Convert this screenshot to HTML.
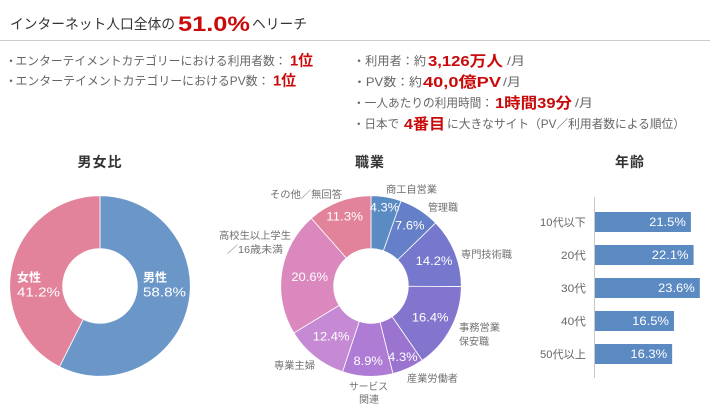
<!DOCTYPE html>
<html lang="ja">
<head>
<meta charset="utf-8">
<title>インターネット人口全体の51.0%へリーチ</title>
<style>
html,body{margin:0;padding:0;background:#fff;}
svg{display:block;}
text{font-family:"Liberation Sans","Noto Sans CJK JP",sans-serif;}
.t{fill:#666;font-size:12px;}
.r{fill:#c80a0a;font-weight:bold;font-size:15px;}
.h{fill:#333;font-size:14px;font-weight:bold;}
.o{fill:#707070;font-size:10px;}
.w{fill:#fff;}
</style>
</head>
<body>
<svg id="chart" xmlns="http://www.w3.org/2000/svg" width="710" height="404" viewBox="0 0 710 404">
  <text x="10" y="29" fill="#333" font-size="14" textLength="165" lengthAdjust="spacingAndGlyphs">インターネット人口全体の</text>
  <text x="178" y="31" fill="#c80a0a" font-size="21" font-weight="bold" textLength="72" lengthAdjust="spacingAndGlyphs">51.0%</text>
  <text x="252" y="29" fill="#333" font-size="14" textLength="55" lengthAdjust="spacingAndGlyphs">ヘリーチ</text>
  <rect x="0" y="40" width="710" height="1" fill="#cccccc"/>

  <g>
    <text class="t" x="5" y="65">・</text>
    <text class="t" x="15.5" y="65" textLength="271" lengthAdjust="spacingAndGlyphs">エンターテイメントカテゴリーにおける利用者数：</text>
    <text class="r" x="290" y="65.5" textLength="23" lengthAdjust="spacingAndGlyphs">1位</text>
    <text class="t" x="5" y="85">・</text>
    <text class="t" x="15.5" y="85" textLength="254" lengthAdjust="spacingAndGlyphs">エンターテイメントカテゴリーにおけるPV数：</text>
    <text class="r" x="273" y="85.5" textLength="23" lengthAdjust="spacingAndGlyphs">1位</text>
  </g>

  <g>
    <text class="t" x="353" y="65" textLength="73" lengthAdjust="spacingAndGlyphs">・利用者：約</text>
    <text class="r" x="428" y="66" textLength="75" lengthAdjust="spacingAndGlyphs">3,126万人</text>
    <text class="t" x="507" y="65" textLength="18" lengthAdjust="spacingAndGlyphs">/月</text>
    <text class="t" x="353" y="86" textLength="69" lengthAdjust="spacingAndGlyphs">・PV数：約</text>
    <text class="r" x="423" y="87" textLength="78" lengthAdjust="spacingAndGlyphs">40,0億PV</text>
    <text class="t" x="503" y="86" textLength="18" lengthAdjust="spacingAndGlyphs">/月</text>
    <text class="t" x="353" y="107" textLength="140" lengthAdjust="spacingAndGlyphs">・一人あたりの利用時間：</text>
    <text class="r" x="495" y="108" textLength="77" lengthAdjust="spacingAndGlyphs">1時間39分</text>
    <text class="t" x="575" y="107" textLength="18" lengthAdjust="spacingAndGlyphs">/月</text>
    <text class="t" x="353" y="128" textLength="46" lengthAdjust="spacingAndGlyphs">・日本で</text>
    <text class="r" x="404" y="129" textLength="41" lengthAdjust="spacingAndGlyphs">4番目</text>
    <text class="t" x="447" y="128" textLength="238" lengthAdjust="spacingAndGlyphs">に大きなサイト（PV／利用者数による順位）</text>
  </g>

  <text class="h" x="100" y="167" text-anchor="middle" letter-spacing="1">男女比</text>
  <text class="h" x="370" y="167" text-anchor="middle" letter-spacing="1">職業</text>
  <text class="h" x="630" y="167" text-anchor="middle" letter-spacing="1">年齢</text>

  <g id="gender-pie"></g>
  <g id="job-pie"></g>

  <g>
    <text class="o" x="386" y="193" textLength="51" lengthAdjust="spacingAndGlyphs">商工自営業</text>
    <text class="o" x="428" y="211" textLength="30" lengthAdjust="spacingAndGlyphs">管理職</text>
    <text class="o" x="461" y="258" textLength="51" lengthAdjust="spacingAndGlyphs">専門技術職</text>
    <text class="o" x="459" y="331" textLength="41" lengthAdjust="spacingAndGlyphs">事務営業</text>
    <text class="o" x="459" y="345" textLength="30" lengthAdjust="spacingAndGlyphs">保安職</text>
    <text class="o" x="407" y="382" textLength="51" lengthAdjust="spacingAndGlyphs">産業労働者</text>
    <text class="o" x="349" y="390" textLength="39" lengthAdjust="spacingAndGlyphs">サービス</text>
    <text class="o" x="359" y="403" textLength="20" lengthAdjust="spacingAndGlyphs">関連</text>
    <text class="o" x="274" y="369" textLength="41" lengthAdjust="spacingAndGlyphs">専業主婦</text>
    <text class="o" x="219" y="239" textLength="72" lengthAdjust="spacingAndGlyphs">高校生以上学生</text>
    <text class="o" x="227" y="253" textLength="56" lengthAdjust="spacingAndGlyphs">／16歳未満</text>
    <text class="o" x="270" y="198" textLength="72" lengthAdjust="spacingAndGlyphs">その他／無回答</text>
  </g>

  <g id="age-bars"></g>
</svg>

<script>
// Printed percentages.
const genderCategories = ['男性', '女性'];
const genderValues = [58.8, 41.2];
// The reference slices are not exactly proportional to their printed values.
const genderDrawAdjust = [-1.4, 1.4];

const jobCategories = ['商工自営業', '管理職', '専門技術職', '事務営業 保安職', '産業労働者', 'サービス関連', '専業主婦', '高校生以上学生／16歳未満', 'その他／無回答'];
const jobValues = [4.3, 7.6, 14.2, 16.4, 4.3, 8.9, 12.4, 20.6, 11.3];
const jobDrawAdjust = [1.1, -0.3, -1.8, -1.1, 1.4, 0.1, -1.2, 1.6, 0.2];

const ageCategories = ['10代以下', '20代', '30代', '40代', '50代以上'];
const ageValues = [21.5, 22.1, 23.6, 16.5, 16.3];
const ageDrawAdjust = [0, 0, -0.1, 1.2, 1.0];

const NS = 'http://www.w3.org/2000/svg';

function polar(cx, cy, r, pct) {
  const a = pct / 100 * 2 * Math.PI;
  return [cx + r * Math.sin(a), cy - r * Math.cos(a)];
}

function arcPath(cx, cy, ro, ri, from, to) {
  const large = to - from > 50 ? 1 : 0;
  const p1 = polar(cx, cy, ro, from);
  const p2 = polar(cx, cy, ro, to);
  const p3 = polar(cx, cy, ri, to);
  const p4 = polar(cx, cy, ri, from);
  return 'M' + p1[0] + ' ' + p1[1] +
    'A' + ro + ' ' + ro + ' 0 ' + large + ' 1 ' + p2[0] + ' ' + p2[1] +
    'L' + p3[0] + ' ' + p3[1] +
    'A' + ri + ' ' + ri + ' 0 ' + large + ' 0 ' + p4[0] + ' ' + p4[1] + 'Z';
}

function drawDonut(parent, values, adjust, colors, cx, cy, ro, ri) {
  const drawn = values.map(function (v, i) { return v + adjust[i]; });
  const total = drawn.reduce(function (a, b) { return a + b; }, 0);
  const mids = [];
  let cum = 0;
  drawn.forEach(function (d, i) {
    const from = cum / total * 100;
    cum += d;
    const to = cum / total * 100;
    mids.push((from + to) / 2);
    const path = document.createElementNS(NS, 'path');
    
    
    path.setAttribute('d', arcPath(cx, cy, ro, ri, from, to));
    path.setAttribute('fill', colors[i % colors.length]);
    path.setAttribute('stroke', '#ffffff');
    path.setAttribute('stroke-width', '0.8');
    parent.appendChild(path);
  });
  return mids;
}

function addText(parent, str, x, y, size, anchor, name, length) {
  const t = document.createElementNS(NS, 'text');
  
  
  t.setAttribute('class', 'w');
  t.setAttribute('x', x);
  t.setAttribute('y', y);
  t.setAttribute('font-size', size);
  t.setAttribute('text-anchor', anchor);
  if (length) {
    t.setAttribute('textLength', length);
    t.setAttribute('lengthAdjust', 'spacingAndGlyphs');
  }
  t.textContent = str;
  parent.appendChild(t);
  return t;
}

// Width of a printed percentage, stretched like the wide digits in the reference.
function pctWidth(str) {
  return str.length * 7.35;
}

// Gender donut
(function () {
  const g = document.getElementById('gender-pie');
  drawDonut(g, genderValues, genderDrawAdjust, ['#6b96c8', '#e2839b'], 100, 286, 90.3, 37.3);
  addText(g, genderCategories[0], 143, 281.5, 12, 'start', 'male-label', 24).setAttribute('font-weight', 'bold');
  addText(g, genderValues[0].toFixed(1) + '%', 143, 296.5, 13, 'start', 'male-value', 43);
  addText(g, genderCategories[1], 17, 281.5, 12, 'start', 'female-label', 24).setAttribute('font-weight', 'bold');
  addText(g, genderValues[1].toFixed(1) + '%', 17, 296.5, 13, 'start', 'female-value', 43);
})();

// Occupation donut
(function () {
  const g = document.getElementById('job-pie');
  const colors = ['#5b8bc3', '#6580c8', '#7578cd', '#8375ce', '#9a74cf', '#ae7cd4', '#c68ad5', '#da88bd', '#e2839b'];
  const labelRadii = [80, 72, 68, 67, 77.5, 74.7, 64, 62, 74.6];
  const mids = drawDonut(g, jobValues, jobDrawAdjust, colors, 371, 286, 90.3, 37.3);
  jobValues.forEach(function (v, i) {
    const p = polar(371, 286, labelRadii[i], mids[i]);
    const s = v.toFixed(1) + '%';
    addText(g, s, p[0], p[1] + 4.2, 11.5, 'middle', 'occupation-value', pctWidth(s));
  });
})();

// Age bars
(function () {
  const g = document.getElementById('age-bars');
  const x0 = 595;
  const perUnit = 4.46;
  const barTop = 212;
  const step = 32.9;
  const barH = 20;
  function xScale(v) { return v * perUnit; }

  const axis = document.createElementNS(NS, 'rect');
  
  
  axis.setAttribute('x', 594);
  axis.setAttribute('y', 197);
  axis.setAttribute('width', 1);
  axis.setAttribute('height', 181);
  axis.setAttribute('fill', '#c8c8c8');
  g.appendChild(axis);

  ageValues.forEach(function (v, i) {
    const y = Math.round(barTop + i * step);
    const w = xScale(v + ageDrawAdjust[i]);
    const bar = document.createElementNS(NS, 'rect');
    
    
    bar.setAttribute('x', x0);
    bar.setAttribute('y', y);
    bar.setAttribute('width', w);
    bar.setAttribute('height', barH);
    bar.setAttribute('fill', '#5b89c2');
    g.appendChild(bar);

    const s = v.toFixed(1) + '%';
    addText(g, s, x0 + w - 5, y + 14.2, 11.5, 'end', 'age-bar-value', pctWidth(s));

    const c = ageCategories[i];
    const lab = addText(g, c, 586, y + 14.2, 11, 'end', 'age-category-label', 14.5 + (c.length - 2) * 10.5);
    lab.setAttribute('class', '');
    lab.setAttribute('fill', '#666');
  });
})();
</script>
</body>
</html>
